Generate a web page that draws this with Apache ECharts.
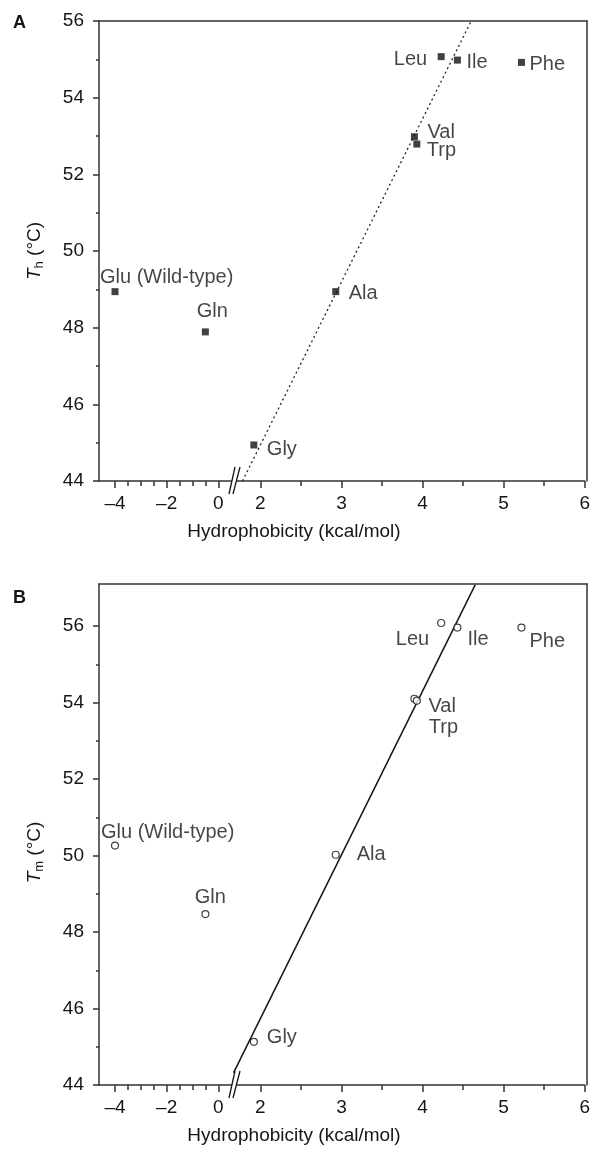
<!DOCTYPE html>
<html>
<head>
<meta charset="utf-8">
<script src="https://cdn.jsdelivr.net/npm/echarts@6/dist/echarts.min.js"></script>
<style>
  html, body { margin: 0; padding: 0; background: #fff; }
  #chart { width: 593px; height: 1151px; }
</style>
</head>
<body>
<div id="chart"></div>
<script>
// values
const residues = ['Glu (Wild-type)', 'Gln', 'Gly', 'Ala', 'Val', 'Trp', 'Leu', 'Ile', 'Phe']
const hydrophobicity = [-4.0, -0.5, 1.92, 2.93, 3.90, 3.93, 4.23, 4.43, 5.22]
const tH = [48.94, 47.89, 44.94, 48.94, 52.98, 52.79, 55.07, 54.98, 54.92]
const tM = [50.26, 48.47, 45.13, 50.02, 54.10, 54.05, 56.08, 55.96, 55.96]
// fitted lines (end points)
const fitHx = [1.78, 4.60]
const fitHy = [44, 56]
const fitMx = [1.67, 4.65]
const fitMy = [44.32, 57.08]
// ticks
const xLabelsLeft = [-4, -2, 0]
const xMinorLeft = [-3.5, -3, -2.5, -1.5, -1, -0.5]
const xLabelsRight = [2, 3, 4, 5, 6]
const xMinorRight = [2.5, 3.5, 4.5, 5.5]
const yLabels = [44, 46, 48, 50, 52, 54, 56]
const yMinor = [45, 47, 49, 51, 53, 55]

const FONT = '"Liberation Sans", Arial, Helvetica, sans-serif'
const INK = '#161616'
const LINE = '#333'
const PLOT_L = 99, PLOT_R = 587, BRK = 233
const X_LEFT = [-4.62, 0.57], X_RIGHT = [1.663, 6]

// label placement: [align, dx, dy] from symbol centre
const placeA = {
  'Glu (Wild-type)': ['left', -15, -14], 'Gln': ['center', 7, -20], 'Gly': ['left', 13, 5],
  'Ala': ['left', 13, 2], 'Val': ['left', 13, -4], 'Trp': ['left', 10, 6],
  'Leu': ['right', -14, 3], 'Ile': ['left', 9, 2], 'Phe': ['left', 8, 2]
}
const placeB = {
  'Glu (Wild-type)': ['left', -14, -13], 'Gln': ['center', 5, -17], 'Gly': ['left', 13, -4],
  'Ala': ['left', 21, 0], 'Val': ['left', 14, 8], 'Trp': ['left', 12, 27],
  'Leu': ['right', -12, 16], 'Ile': ['left', 10, 12], 'Phe': ['left', 8, 14]
}

const grids = [], xAxes = [], yAxes = [], series = [], graphics = []

const fmtX = v => (v < 0 ? '\u2013' + Math.abs(v) : String(v))
const lineStyle = { color: LINE, width: 1.5 }
const tickText = { color: INK, fontSize: 19, fontFamily: FONT }
const pointText = { color: INK, fontSize: 20, fontFamily: FONT }

function axis(o) {
  return Object.assign({
    type: 'value', splitLine: { show: false },
    axisLine: { show: false, onZero: false, lineStyle },
    axisTick: { show: false }, axisLabel: { show: false }
  }, o)
}

function addPanel(cfg) {
  const g = grids.length
  const h = cfg.bottom - cfg.top
  grids.push({ left: PLOT_L, top: cfg.top, width: BRK - PLOT_L, height: h })
  grids.push({ left: BRK, top: cfg.top, width: PLOT_R - BRK, height: h })
  grids.push({ left: PLOT_L, top: cfg.top, width: PLOT_R - PLOT_L, height: h })

  // left segment
  const xl = xAxes.length
  xAxes.push(axis({
    gridIndex: g, min: X_LEFT[0], max: X_LEFT[1], position: 'bottom',
    axisLine: { show: true, onZero: false, lineStyle },
    axisTick: { show: true, customValues: xLabelsLeft, length: 7, lineStyle },
    axisLabel: Object.assign({ show: true, customValues: xLabelsLeft, formatter: fmtX, margin: 13 }, tickText)
  }))
  xAxes.push(axis({
    gridIndex: g, min: X_LEFT[0], max: X_LEFT[1], position: 'bottom',
    axisTick: { show: true, customValues: xMinorLeft, length: 5, lineStyle }
  }))
  const yl = yAxes.length
  yAxes.push(axis({
    gridIndex: g, min: 44, max: cfg.ymax, position: 'left',
    axisLine: { show: true, onZero: false, lineStyle },
    axisTick: { show: true, customValues: yLabels, length: 6, lineStyle },
    axisLabel: Object.assign({ show: true, customValues: yLabels, margin: 15 }, tickText),
    name: '{i|T}{s|' + cfg.sub + '}{n| (°C)}',
    nameLocation: 'middle', nameGap: 55, nameRotate: 90,
    nameTextStyle: {
      padding: cfg.namePad,
      rich: {
        i: { fontStyle: 'italic', fontSize: 19, fontFamily: FONT, color: INK },
        s: { fontSize: 13, fontFamily: FONT, color: INK, lineHeight: 13, padding: [9, 0, 0, 0] },
        n: { fontSize: 19, fontFamily: FONT, color: INK }
      }
    }
  }))
  yAxes.push(axis({
    gridIndex: g, min: 44, max: cfg.ymax, position: 'left',
    axisTick: { show: true, customValues: yMinor, length: 3, lineStyle }
  }))

  // right segment
  const xr = xAxes.length
  xAxes.push(axis({
    gridIndex: g + 1, min: X_RIGHT[0], max: X_RIGHT[1], position: 'bottom',
    axisLine: { show: true, onZero: false, lineStyle },
    axisTick: { show: true, customValues: xLabelsRight, length: 7, lineStyle },
    axisLabel: Object.assign({ show: true, customValues: xLabelsRight, formatter: fmtX, margin: 13 }, tickText)
  }))
  xAxes.push(axis({
    gridIndex: g + 1, min: X_RIGHT[0], max: X_RIGHT[1], position: 'bottom',
    axisTick: { show: true, customValues: xMinorRight, length: 5, lineStyle }
  }))
  const yr = yAxes.length
  yAxes.push(axis({ gridIndex: g + 1, min: 44, max: cfg.ymax, position: 'left' }))

  // frame: top and right border
  xAxes.push(axis({ gridIndex: g + 2, min: 0, max: 1, position: 'top', axisLine: { show: true, onZero: false, lineStyle } }))
  yAxes.push(axis({ gridIndex: g + 2, min: 0, max: 1, position: 'right', axisLine: { show: true, onZero: false, lineStyle } }))

  const item = (i) => {
    const p = cfg.place[residues[i]]
    return {
      name: residues[i], value: [hydrophobicity[i], cfg.temps[i]],
      label: Object.assign({
        show: true, formatter: '{b}', position: 'inside',
        align: p[0], verticalAlign: 'middle', offset: [p[1], p[2]]
      }, pointText)
    }
  }
  const idx = residues.map((_, i) => i)
  const inLeft = idx.filter(i => hydrophobicity[i] < X_LEFT[1])
  const inRight = idx.filter(i => hydrophobicity[i] >= X_RIGHT[0])

  series.push({
    type: 'line', xAxisIndex: xr, yAxisIndex: yr, symbol: 'none', silent: true, z: 2,
    lineStyle: cfg.fitStyle,
    data: cfg.fitX.map((x, k) => [x, cfg.fitY[k]])
  })
  const sym = cfg.square
    ? { symbol: 'rect', symbolSize: 7, itemStyle: { color: '#111' } }
    : { symbol: 'circle', symbolSize: 7, itemStyle: { color: '#fff', borderColor: '#111', borderWidth: 1.2 } }
  series.push(Object.assign({ type: 'scatter', xAxisIndex: xl, yAxisIndex: yl, z: 3, data: inLeft.map(item) }, sym))
  series.push(Object.assign({ type: 'scatter', xAxisIndex: xr, yAxisIndex: yr, z: 3, data: inRight.map(item) }, sym))

  // panel letter, x title, axis break mark
  const by = cfg.bottom
  graphics.push({
    type: 'text', x: 13, y: cfg.letterY, z: 100,
    style: { text: cfg.letter, font: 'bold 18px ' + FONT, fill: INK, verticalAlign: 'middle' }
  })
  graphics.push({
    type: 'text', x: 294, y: by + 51, z: 100,
    style: { text: 'Hydrophobicity (kcal/mol)', font: '19px ' + FONT, fill: INK, align: 'center', verticalAlign: 'middle' }
  })
  graphics.push({
    type: 'polygon', z: 100,
    shape: { points: [[BRK - 4, by + 13], [BRK + 2, by - 14], [BRK + 7, by - 14], [BRK, by + 13]] },
    style: { fill: '#fff' }
  })
  graphics.push({ type: 'line', z: 101, shape: { x1: BRK - 4, y1: by + 13, x2: BRK + 2, y2: by - 14 }, style: { stroke: INK, lineWidth: 1.3 } })
  graphics.push({ type: 'line', z: 101, shape: { x1: BRK, y1: by + 13, x2: BRK + 7, y2: by - 14 }, style: { stroke: INK, lineWidth: 1.3 } })
}

addPanel({
  top: 21, bottom: 481, ymax: 56, temps: tH, sub: 'h', namePad: [0, 0, 0, 0],
  fitX: fitHx, fitY: fitHy, fitStyle: { color: '#222', width: 1.3, type: [2, 3] },
  square: true, place: placeA, letter: 'A', letterY: 23
})
addPanel({
  top: 584, bottom: 1085, ymax: 57.1, temps: tM, sub: 'm', namePad: [0, 36, 0, 0],
  fitX: fitMx, fitY: fitMy, fitStyle: { color: '#111', width: 1.6 },
  square: false, place: placeB, letter: 'B', letterY: 598
})

const chart = echarts.init(document.getElementById('chart'), null, { renderer: 'canvas' })
chart.setOption({
  animation: false,
  backgroundColor: '#fff',
  textStyle: { fontFamily: FONT },
  grid: grids,
  xAxis: xAxes,
  yAxis: yAxes,
  series: series,
  graphic: graphics
})
</script>
</body>
</html>
